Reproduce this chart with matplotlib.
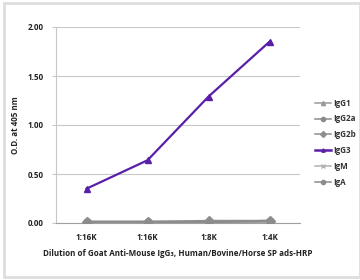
import matplotlib
matplotlib.use("Agg")
import matplotlib.pyplot as plt
from matplotlib.patches import Rectangle

plt.rcParams['font.family'] = ['Open Sans', 'DejaVu Sans']

categories = ["1:16K", "1:16K", "1:8K", "1:4K"]
series_names = ["IgG1", "IgG2a", "IgG2b", "IgG3", "IgM", "IgA"]
igg1 = [0.01, 0.01, 0.01, 0.02]
igg2a = [0.01, 0.01, 0.01, 0.01]
igg2b = [0.01, 0.01, 0.02, 0.02]
igg3 = [0.35, 0.64, 1.29, 1.85]
igm = [0.01, 0.01, 0.01, 0.01]
iga = [0.01, 0.01, 0.01, 0.02]
yticks = [0.0, 0.5, 1.0, 1.5, 2.0]

series = [igg1, igg2a, igg2b, igg3, igm, iga]
colors = ["#9a9a9a", "#8a8a8a", "#8f8f8f", "#5a1fa8", "#b0b0b0", "#8c8c8c"]
markers = ["^", "o", "D", "^", "x", "o"]

FS = 5.8
fig = plt.figure(figsize=(3.6, 2.8), dpi=100)
fig.patches.append(Rectangle((4/360, 3/280), 356/360, 274/280, transform=fig.transFigure,
                             fill=False, edgecolor="#dedede", linewidth=2.0))
ax = fig.add_axes([56/360, 1 - 223/280, 244/360, (223 - 27)/280])

x = list(range(len(categories)))
for name, vals, c, m in zip(series_names, series, colors, markers):
    if name == "IgG3":
        ax.plot(x, vals, color=c, marker=m, markersize=4, linewidth=1.6, label=name, zorder=5)
    else:
        ax.plot(x, vals, color=c, marker=m, markersize=5, linewidth=1.8, label=name, zorder=3)

ax.set_xlim(-0.5, len(categories) - 0.5)
ax.set_ylim(0, 2.0)
ax.set_yticks(yticks)
ax.set_yticklabels([f"{v:.2f}" for v in yticks], fontsize=FS, fontweight="bold", color="#222222")
ax.set_xticks(x)
ax.set_xticklabels(categories, fontsize=FS, fontweight="bold", color="#222222")
ax.yaxis.grid(True, color="#c8c8c8", linewidth=0.8)
ax.set_axisbelow(True)
for s in ["top", "right"]:
    ax.spines[s].set_visible(False)
ax.spines["left"].set_color("#c8c8c8")
ax.spines["bottom"].set_color("#a0a0a0")
ax.tick_params(axis="y", length=3, color="#c8c8c8", pad=6)
ax.tick_params(axis="x", length=0, pad=7)
ax.set_ylabel("O.D. at 405 nm", fontsize=FS, fontweight="bold", color="#222222", labelpad=5)
ax.set_xlabel("Dilution of Goat Anti-Mouse IgG\u2083, Human/Bovine/Horse SP ads-HRP",
              fontsize=FS, fontweight="bold", color="#222222", labelpad=5)

leg = ax.legend(loc="center left", bbox_to_anchor=(1.03, 0.41), frameon=False,
                fontsize=FS, handlelength=2.0, markerscale=0.6, labelspacing=0.85,
                handletextpad=0.3)
for name, h in zip(series_names, leg.legend_handles):
    h.set_linewidth(1.8 if name == "IgG3" else 1.1)
for t in leg.get_texts():
    t.set_fontweight("bold")
    t.set_color("#333333")

fig.savefig("out.png", dpi=100)
